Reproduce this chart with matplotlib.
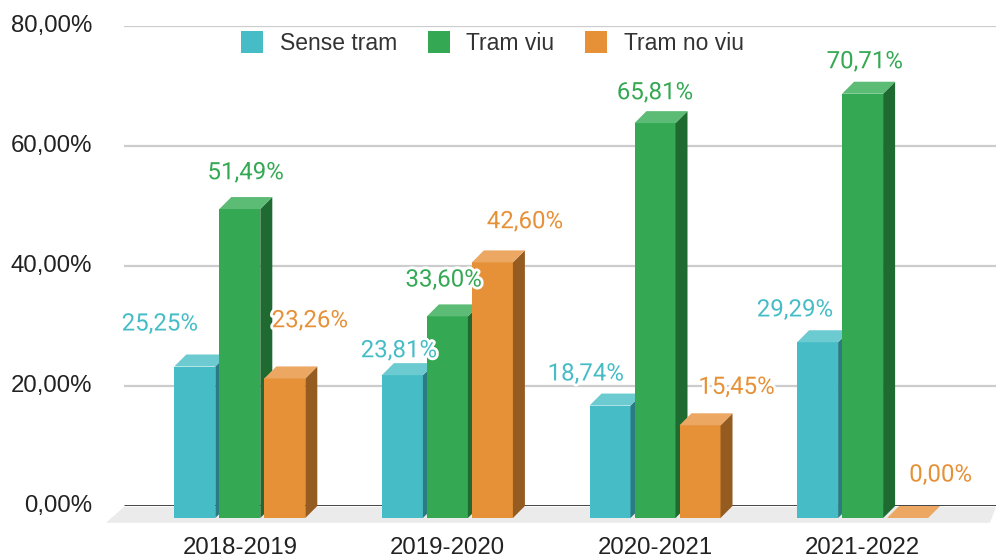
import matplotlib
matplotlib.use("Agg")
import matplotlib.pyplot as plt
from matplotlib.patches import Polygon, Rectangle, Patch
import matplotlib.patheffects as pe

# ---------------- data ----------------
categories = ["2018-2019", "2019-2020", "2020-2021", "2021-2022"]
series_names = ["Sense tram", "Tram viu", "Tram no viu"]
sense_tram = [25.25, 23.81, 18.74, 29.29]
tram_viu = [51.49, 33.60, 65.81, 70.71]
tram_no_viu = [23.26, 42.60, 15.45, 0.00]
y_ticks = [0, 20, 40, 60, 80]
y_tick_labels = ["0,00%", "20,00%", "40,00%", "60,00%", "80,00%"]

# ---------------- style ----------------
front_cols = ["#46BDC6", "#34A853", "#E69138"]
top_cols = ["#6CCAD1", "#5CBB75", "#ECA762"]
side_cols = ["#2B7B82", "#1E6A30", "#955C22"]

# label offsets (pixels) relative to bar front-centre / front-top
label_off = [
    [(-35, -42.5), (5.8, -36.3), (25, -57.7)],
    [(-3.5, -24.4), (-3.8, -36.4), (32.5, -40.7)],
    [(-24.3, -31.6), (0, -30.4), (36.5, -38)],
    [(-22.7, -32.3), (2, -32), (33, -43)],
]

W, H = 996, 559
fig = plt.figure(figsize=(W / 100, H / 100), dpi=100)
ax_l, ax_r, ax_t, ax_b = 124, 996, 26, 506
ax = fig.add_axes([ax_l / W, 1 - ax_b / H, (ax_r - ax_l) / W, (ax_b - ax_t) / H])

px_per_cat = 207.6
first_center = 239.8
px_per_pct = (ax_b - ax_t) / 80.0
x0 = (ax_l - first_center) / px_per_cat
x1 = (ax_r - first_center) / px_per_cat
ax.set_xlim(x0, x1)
ax.set_ylim(0, 80)
ax.axis("off")

ddx = 12 / px_per_cat       # depth in category units
ddy = 12 / px_per_pct       # depth in percent units
bar_w = 41 / px_per_cat
pitch = 45 / px_per_cat

# gridlines
for t in y_ticks[1:]:
    ax.plot([x0, x1], [t, t], color="#CCCCCC", lw=1.6, zorder=1, solid_capstyle="butt")

# floor
fl = Polygon([(x0, -0.15), (x1, -0.15), (x1 - 6 / px_per_cat, -2.8),
              (x0 - 18 / px_per_cat, -2.8)], closed=True,
             facecolor="#EBEBEB", edgecolor="none", zorder=1.5, clip_on=False)
ax.add_patch(fl)
ax.plot([x0, x1], [0, 0], color="#333333", lw=2, zorder=2, solid_capstyle="butt")

series = [sense_tram, tram_viu, tram_no_viu]
z = 3
for i in range(len(categories)):
    for j, vals in enumerate(series):
        v = vals[i]
        c = i + (j - 1) * pitch
        a, b = c - bar_w / 2, c + bar_w / 2
        # front
        ax.add_patch(Rectangle((a, -ddy), bar_w, v, facecolor=front_cols[j],
                               edgecolor="none", zorder=z, clip_on=False))
        # side
        ax.add_patch(Polygon([(b, -ddy), (b + ddx, 0), (b + ddx, v), (b, v - ddy)],
                             closed=True, facecolor=side_cols[j], edgecolor="none",
                             zorder=z, clip_on=False))
        # top
        ax.add_patch(Polygon([(a, v - ddy), (a + ddx, v), (b + ddx, v), (b, v - ddy)],
                             closed=True, facecolor=top_cols[j], edgecolor="none",
                             zorder=z, clip_on=False))
        z += 0.01

# data labels
for i in range(len(categories)):
    for j, vals in enumerate(series):
        v = vals[i]
        c = i + (j - 1) * pitch
        dxp, dyp = label_off[i][j]
        tx = c + dxp / px_per_cat
        ty = (v - ddy) - dyp / px_per_pct
        txt = f"{v:.2f}%".replace(".", ",")
        ax.text(tx, ty, txt, ha="center", va="center", color=front_cols[j],
                fontsize=17.3, family=["Roboto", "DejaVu Sans"], zorder=10,
                path_effects=[pe.withStroke(linewidth=4, foreground="white")])

# y tick labels
for t, lab in zip(y_ticks, y_tick_labels):
    ax.text(x0 - 32 / px_per_cat, t, lab, ha="right", va="center", color="#222222",
            fontsize=17.3, family=["Liberation Sans", "DejaVu Sans"], clip_on=False)

# x labels
for i, lab in enumerate(categories):
    ax.text(i, -42 / px_per_pct, lab, ha="center", va="center", color="#222222",
            fontsize=17.3, family=["Liberation Sans", "DejaVu Sans"], clip_on=False)

# legend
handles = [Patch(facecolor=front_cols[j], edgecolor="none", label=series_names[j])
           for j in range(3)]
leg = ax.legend(handles=handles, loc="center", bbox_to_anchor=(492.5 / W, 1 - 43 / H),
                bbox_transform=fig.transFigure, ncol=3, frameon=False,
                prop={"family": ["Liberation Sans", "DejaVu Sans"], "size": 16.5},
                handlelength=0.95, handleheight=1.05, handletextpad=0.72,
                columnspacing=1.36, borderpad=0, borderaxespad=0)
for t in leg.get_texts():
    t.set_color("#333333")

fig.savefig("out.png", dpi=100, facecolor="white")
